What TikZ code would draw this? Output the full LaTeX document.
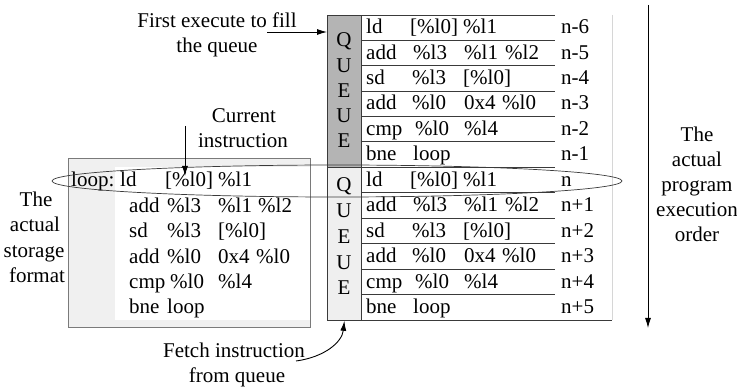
\documentclass[tikz,border=0pt]{standalone}
\usepackage{fontspec}
\setmainfont{Liberation Serif}
\usetikzlibrary{arrows.meta}
\definecolor{darkq}{HTML}{B4B4B4}
\definecolor{lightq}{HTML}{EFEFEF}
\definecolor{boxfill}{HTML}{F0F0F0}
\definecolor{boxline}{HTML}{7A7A7A}
\definecolor{rowline}{HTML}{3A3A3A}
\definecolor{edgeline}{HTML}{D6D6D6}
\newcommand\qrows[3]{%
  \node[txt] (#1m1) at (366,{#2}) {ld};
  \node[txt] (#1p1) at (410,{#2}) {[\%l0]};
  \node[txt] (#1q1) at (463,{#2}) {\%l1};
  \node[txt] (#1m2) at (366,{#2+#3}) {add};
  \node[txt] (#1p2) at (413,{#2+#3}) {\%l3};
  \node[txt] (#1q2) at (464,{#2+#3}) {\%l1};
  \node[txt] (#1r2) at (505,{#2+#3}) {\%l2};
  \node[txt] (#1m3) at (366,{#2+2*#3}) {sd};
  \node[txt] (#1p3) at (412,{#2+2*#3}) {\%l3};
  \node[txt] (#1q3) at (463,{#2+2*#3}) {[\%l0]};
  \node[txt] (#1m4) at (366,{#2+3*#3}) {add};
  \node[txt] (#1p4) at (412,{#2+3*#3}) {\%l0};
  \node[txt] (#1q4) at (464,{#2+3*#3}) {0x4};
  \node[txt] (#1r4) at (502,{#2+3*#3}) {\%l0};
  \node[txt] (#1m5) at (366,{#2+4*#3}) {cmp};
  \node[txt] (#1p5) at (415,{#2+4*#3}) {\%l0};
  \node[txt] (#1q5) at (464,{#2+4*#3}) {\%l4};
  \node[txt] (#1m6) at (366,{#2+5*#3}) {bne};
  \node[txt] (#1p6) at (413,{#2+5*#3}) {loop};
}
\begin{document}
\begin{tikzpicture}[x=1pt,y=-1pt,
  font=\fontsize{21}{25}\selectfont,
  txt/.style={anchor=base west, inner sep=0pt},
  lbl/.style={anchor=base, inner sep=0pt},
  arr/.style={-{Latex[length=10pt,width=6pt]}, line width=0.9pt},
  rowl/.style={draw=rowline, line width=0.8pt},
  qcol/.style={draw=rowline, line width=0.8pt, minimum width=34pt,
    inner sep=0pt, anchor=north west}]
\useasboundingbox (0,0) rectangle (737,387);

% left storage box
\node[draw=boxline, fill=boxfill, line width=0.8pt, anchor=north west,
  minimum width=242pt, minimum height=169pt, inner sep=0pt] (lbox) at (68,158) {};
\fill[white] (115,167) rectangle (309.5,320);

% queue columns
\node[qcol, fill=darkq, minimum height=152pt] (qtop) at (327,15) {};
\node[qcol, fill=lightq, minimum height=153pt] (qbot) at (327,167) {};
\foreach \k/\c in {0/Q,1/U,2/E,3/U,4/E}{
  \node[lbl] (qtl\k) at (344,{47+25.25*\k}) {\c};
  \node[lbl] (qbl\k) at (344,{192+25.75*\k}) {\c};
}

% table lines
\draw[rowl] (327,15) -- (555,15);
\foreach \k in {1,...,6} \draw[rowl] (361,{15+25.333*\k}) -- (555,{15+25.333*\k});
\foreach \k in {1,...,5} \draw[rowl] (361,{167+25.5*\k}) -- (555,{167+25.5*\k});
\draw[rowl] (327,320) -- (612,320);
\draw[draw=edgeline, line width=0.8pt] (612,15) -- (612,320);

% instructions in queue
\qrows{t}{34}{25.333}
\qrows{b}{186.5}{25.5}
\foreach \k/\t in {0/n-6,1/n-5,2/n-4,3/n-3,4/n-2,5/n-1}
  \node[txt] (nt\k) at (561,{34+25.333*\k}) {\t};
\foreach \k/\t in {0/n,1/n+1,2/n+2,3/n+3,4/n+4,5/n+5}
  \node[txt] (nb\k) at (561,{186.5+25.5*\k}) {\t};

% storage format contents
\node[txt] (s0a) at (71,187) {loop:};
\node[txt] (s0b) at (120,187) {ld};
\node[txt] (s0c) at (165,187) {[\%l0]};
\node[txt] (s0d) at (218,187) {\%l1};
\node[txt] (s1a) at (129,212.5) {add};
\node[txt] (s1b) at (167,212.5) {\%l3};
\node[txt] (s1c) at (218,212.5) {\%l1};
\node[txt] (s1d) at (258,212.5) {\%l2};
\node[txt] (s2a) at (129,238) {sd};
\node[txt] (s2b) at (167,238) {\%l3};
\node[txt] (s2c) at (218,238) {[\%l0]};
\node[txt] (s3a) at (129,263.5) {add};
\node[txt] (s3b) at (167,263.5) {\%l0};
\node[txt] (s3c) at (218,263.5) {0x4};
\node[txt] (s3d) at (256,263.5) {\%l0};
\node[txt] (s4a) at (129,289) {cmp};
\node[txt] (s4b) at (170,289) {\%l0};
\node[txt] (s4c) at (218,289) {\%l4};
\node[txt] (s5a) at (129,314) {bne};
\node[txt] (s5b) at (167,314) {loop};

% ellipse
\draw[draw=rowline, line width=0.7pt] (337,181) ellipse [x radius=285pt, y radius=16pt];

% labels
\node[lbl] (fe1) at (217,28) {First execute to fill};
\node[lbl] (fe2) at (217,53) {the queue};
\node[lbl] (ci1) at (244,123) {Current};
\node[lbl] (ci2) at (243,148) {instruction};
\node[lbl] (sf1) at (36,207) {The};
\node[lbl] (sf2) at (35,232) {actual};
\node[lbl] (sf3) at (34,257.5) {storage};
\node[lbl] (sf4) at (37,283) {format};
\node[lbl] (po1) at (697,142) {The};
\node[lbl] (po2) at (697,167) {actual};
\node[lbl] (po3) at (697,192) {program};
\node[lbl] (po4) at (697,217) {execution};
\node[lbl] (po5) at (697,242) {order};
\node[lbl] (fq1) at (234,358) {Fetch instruction};
\node[lbl] (fq2) at (237,383) {from queue};

% arrows
\coordinate (feS) at (267,32);
\draw[arr] (feS) -- (feS -| qtop.west);
\coordinate (ciS) at (185,126);
\coordinate (ciE) at (185,176);
\draw[arr] (ciS) -- (ciE);
\coordinate (fqS) at (296,361);
\draw[arr] (fqS) .. controls (325,357) and (342,342) .. (qbot.south);
\coordinate (poS) at (648,5);
\coordinate (poE) at (648,328);
\draw[arr] (poS) -- (poE);
\end{tikzpicture}
\end{document}
